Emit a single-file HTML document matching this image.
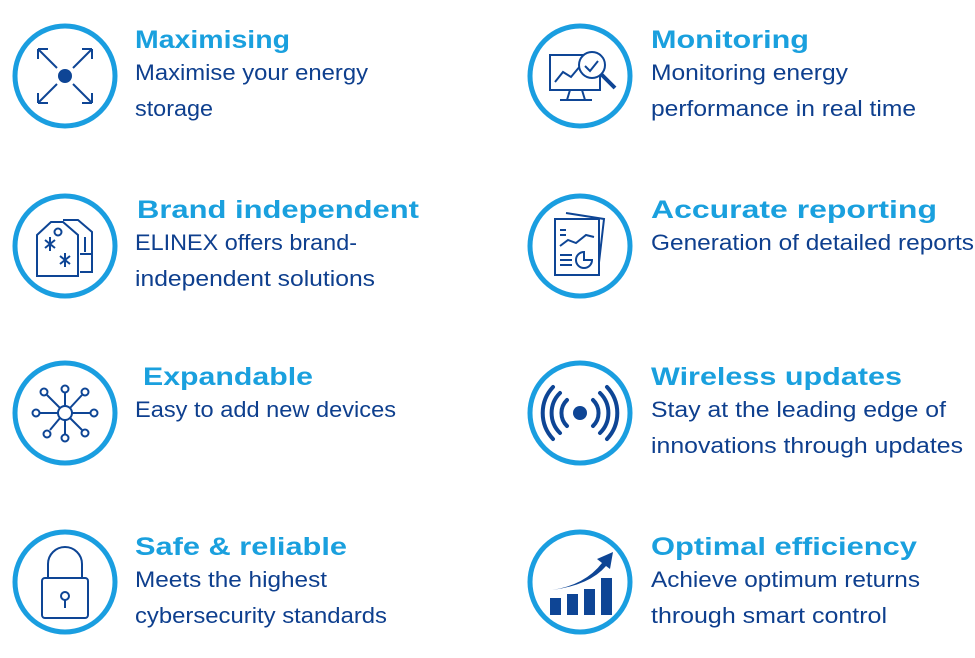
<!DOCTYPE html>
<html><head><meta charset="utf-8"><style>
html,body{margin:0;padding:0;background:#fff;width:975px;height:658px;overflow:hidden}
.t{font-family:"Liberation Sans",sans-serif;font-weight:bold;font-size:25px;fill:#1aa0de}
.b{font-family:"Liberation Sans",sans-serif;font-size:22px;fill:#0e3f8e}
.c{fill:none;stroke:#1a9ee0;stroke-width:5}
.i{fill:none;stroke:#0e4595;stroke-width:2}
</style></head><body>
<svg width="975" height="658" viewBox="0 0 975 658" xmlns="http://www.w3.org/2000/svg">
<!-- circles -->
<circle class="c" cx="65" cy="76" r="50"/>
<circle class="c" cx="65" cy="246" r="50"/>
<circle class="c" cx="65" cy="413" r="50"/>
<circle class="c" cx="65" cy="582" r="50"/>
<circle class="c" cx="580" cy="76" r="50"/>
<circle class="c" cx="580" cy="246" r="50"/>
<circle class="c" cx="580" cy="413" r="50"/>
<circle class="c" cx="580" cy="582" r="50"/>

<!-- Maximising icon -->
<circle cx="65" cy="76" r="7" fill="#0e4595"/>
<g class="i">
<path d="M38 49 L57 68 M38 49 h10 M38 49 v10"/>
<path d="M92 49 L73 68 M92 49 h-10 M92 49 v10"/>
<path d="M38 103 L57 84 M38 103 h10 M38 103 v-10"/>
<path d="M92 103 L73 84 M92 103 h-10 M92 103 v-10"/>
</g>
<!-- Brand icon -->
<g class="i">
<path d="M63 220 h15 l14 12 v40 h-12"/>
<path d="M37 235 l14 -13 h12 l15 13 v41 h-41 z"/>
<circle cx="58" cy="232" r="3.5"/>
<path d="M85 237 v15 M80 254 h12"/>
<path d="M45 240 l10 8 M55 240 l-10 8 M50 237 v14 M60 256 l10 8 M70 256 l-10 8 M65 253 v14"/>
</g>
<!-- Expandable icon -->
<g class="i">
<circle cx="65" cy="413" r="7"/>
<path d="M65 406 v-14 M72 413 h18 M58 413 h-18 M70 408 l12 -13 M60 408 l-13 -13 M70 418 l12 12 M60 418 l-10 12 M65 420 v14"/>
<circle cx="65" cy="389" r="3.5"/><circle cx="94" cy="413" r="3.5"/><circle cx="36" cy="413" r="3.5"/>
<circle cx="85" cy="392" r="3.5"/><circle cx="44" cy="392" r="3.5"/><circle cx="85" cy="433" r="3.5"/>
<circle cx="47" cy="434" r="3.5"/><circle cx="65" cy="438" r="3.5"/>
</g>
<!-- Lock icon -->
<g class="i" stroke-width="3">
<path d="M48 578 v-14 a17 17 0 0 1 34 0 v14"/>
<rect x="42" y="578" width="46" height="40" rx="3"/>
<circle cx="65" cy="596" r="4"/><path d="M65 600 v8"/>
</g>
<!-- Monitoring icon -->
<g class="i">
<rect x="550" y="55" width="50" height="35"/>
<path d="M570 90 l-3 10 h18 l-3 -10 M560 100 h32"/>
<path d="M555 82 l8 -10 l8 5 l10 -12 l10 3"/>
<circle cx="592" cy="65" r="13" fill="#fff"/>
<path d="M601 74 l14 14" stroke-width="4"/>
<path d="M585 66 l5 5 l8 -10"/>
</g>
<!-- Reporting icon -->
<g class="i">
<path d="M566 213 l38 6 l-6 52"/>
<rect x="555" y="219" width="44" height="56" fill="#fff"/>
<path d="M560 230 h6 M560 235 h6 M560 246 l8 -6 l8 3 l10 -8 l8 2 M560 255 h12 M560 260 h12 M560 265 h12"/>
<path d="M584 252 a8 8 0 1 0 8 8 h-8 z"/>
</g>
<!-- Wireless icon -->
<circle cx="580" cy="413" r="7" fill="#0e4595"/>
<g fill="none" stroke="#0e4595" stroke-width="4" stroke-linecap="round">
<path d="M567 400 a18 18 0 0 0 0 26 M593 400 a18 18 0 0 1 0 26"/>
<path d="M560 393 a28 28 0 0 0 0 40 M600 393 a28 28 0 0 1 0 40"/>
<path d="M553 387 a38 38 0 0 0 0 52 M607 387 a38 38 0 0 1 0 52"/>
</g>
<!-- Efficiency icon -->
<g fill="#0e4595">
<rect x="550" y="598" width="11" height="17"/>
<rect x="567" y="594" width="11" height="21"/>
<rect x="584" y="589" width="11" height="26"/>
<rect x="601" y="578" width="11" height="37"/>
<path d="M552 590 Q585 585 602 563 l-5 -4 l16 -7 l-3 17 l-4 -3 Q590 585 552 590 z"/>
</g>

<!-- titles -->
<text class="t" x="135" y="48" textLength="155" lengthAdjust="spacingAndGlyphs">Maximising</text>
<text class="t" x="137" y="218" textLength="282" lengthAdjust="spacingAndGlyphs">Brand independent</text>
<text class="t" x="143" y="385" textLength="170" lengthAdjust="spacingAndGlyphs">Expandable</text>
<text class="t" x="135" y="555" textLength="212" lengthAdjust="spacingAndGlyphs">Safe &amp; reliable</text>
<text class="t" x="651" y="48" textLength="158" lengthAdjust="spacingAndGlyphs">Monitoring</text>
<text class="t" x="651" y="218" textLength="286" lengthAdjust="spacingAndGlyphs">Accurate reporting</text>
<text class="t" x="651" y="385" textLength="251" lengthAdjust="spacingAndGlyphs">Wireless updates</text>
<text class="t" x="651" y="555" textLength="266" lengthAdjust="spacingAndGlyphs">Optimal efficiency</text>

<!-- body -->
<text class="b" x="135" y="80" textLength="233" lengthAdjust="spacingAndGlyphs">Maximise your energy</text>
<text class="b" x="135" y="116" textLength="78" lengthAdjust="spacingAndGlyphs">storage</text>
<text class="b" x="135" y="250" textLength="222" lengthAdjust="spacingAndGlyphs">ELINEX offers brand-</text>
<text class="b" x="135" y="286" textLength="240" lengthAdjust="spacingAndGlyphs">independent solutions</text>
<text class="b" x="135" y="417" textLength="261" lengthAdjust="spacingAndGlyphs">Easy to add new devices</text>
<text class="b" x="135" y="587" textLength="192" lengthAdjust="spacingAndGlyphs">Meets the highest</text>
<text class="b" x="135" y="623" textLength="252" lengthAdjust="spacingAndGlyphs">cybersecurity standards</text>
<text class="b" x="651" y="80" textLength="197" lengthAdjust="spacingAndGlyphs">Monitoring energy</text>
<text class="b" x="651" y="116" textLength="265" lengthAdjust="spacingAndGlyphs">performance in real time</text>
<text class="b" x="651" y="250" textLength="323" lengthAdjust="spacingAndGlyphs">Generation of detailed reports</text>
<text class="b" x="651" y="417" textLength="295" lengthAdjust="spacingAndGlyphs">Stay at the leading edge of</text>
<text class="b" x="651" y="453" textLength="312" lengthAdjust="spacingAndGlyphs">innovations through updates</text>
<text class="b" x="651" y="587" textLength="269" lengthAdjust="spacingAndGlyphs">Achieve optimum returns</text>
<text class="b" x="651" y="623" textLength="236" lengthAdjust="spacingAndGlyphs">through smart control</text>
</svg>
</body></html>
